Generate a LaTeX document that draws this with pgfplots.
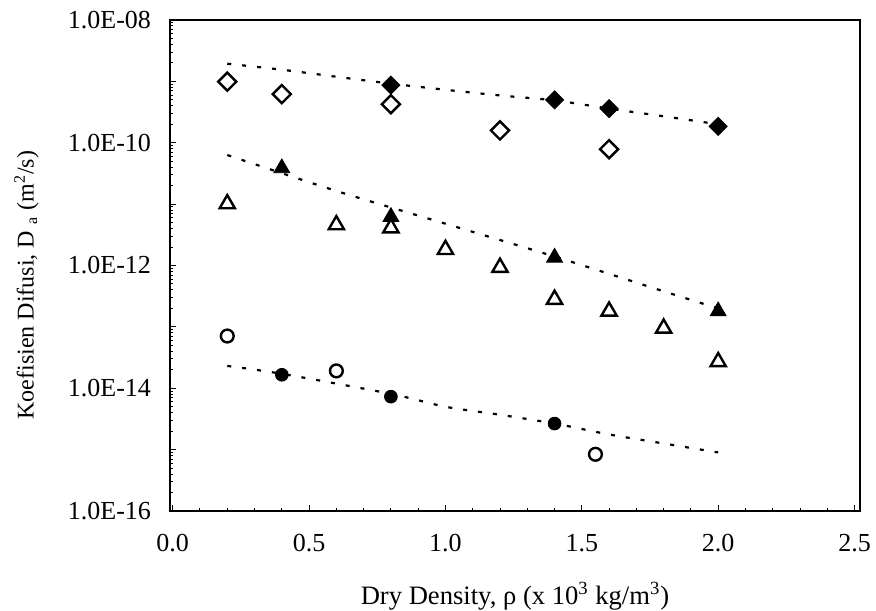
\documentclass[border=0pt]{standalone}
\usepackage{fontspec}
\setmainfont{Liberation Serif}
\usepackage{pgfplots}
\pgfplotsset{compat=1.18}
\begin{document}
\begin{tikzpicture}
\begin{axis}[
    scale only axis,
    width=345pt, height=245.5pt,
    xmin=-0.01, xmax=2.52,
    ymode=log, ymin=1e-16, ymax=1e-8,
    xtick={0,0.5,1,1.5,2,2.5},
    xticklabels={0.0,0.5,1.0,1.5,2.0,2.5},
    ytick={1e-16,1e-15,1e-14,1e-13,1e-12,1e-11,1e-10,1e-9,1e-8},
    yticklabels={1.0E-16,{},1.0E-14,{},1.0E-12,{},1.0E-10,{},1.0E-08},
    minor x tick num=4,
    tick pos=left, tick align=inside,
    major tick length=3pt, minor tick length=1.5pt,
    tick style={black, line width=0.5pt},
    axis line style={line width=1.3pt},
    ticklabel style={font=\fontsize{13}{15}\selectfont},
    xticklabel style={yshift=-8pt},
    yticklabel style={xshift=-6pt},
    xlabel={Dry Density, ρ (x 10\textsuperscript{3} kg/m\textsuperscript{3})},
    ylabel={Koefisien Difusi, D \textsubscript{a} (m\textsuperscript{2}/s)},
    xlabel style={font=\fontsize{13.3}{15}\selectfont, at={(axis description cs:0.5,-0.173)}, anchor=center},
    ylabel style={font=\fontsize{12}{14}\selectfont, at={(axis description cs:-0.208,0.46)}, anchor=center},
    clip=false,
]
% fitted trend lines
\addplot[black, line width=1.1pt, dash pattern=on 2pt off 5.5pt, smooth] coordinates {
(0.2,1.94e-9) (0.4,1.55e-9) (0.6,1.19e-9) (0.8,9.2e-10) (1.0,7.3e-10)
(1.2,5.9e-10) (1.4,4.9e-10) (1.6,3.6e-10) (1.8,2.7e-10) (2.0,2.0e-10)
};
\addplot[black, line width=1.1pt, dash pattern=on 2pt off 5.5pt, smooth] coordinates {
(0.2,6.3e-11) (0.6,1.64e-11) (1.0,4.8e-12) (1.4,1.4e-12) (1.8,3.8e-13) (2.0,2.0e-13)
};
\addplot[black, line width=1.1pt, dash pattern=on 2pt off 5.5pt, smooth] coordinates {
(0.2,2.31e-14) (0.4,1.72e-14) (0.8,8.1e-15) (1.0,5.0e-15) (1.2,3.7e-15)
(1.4,2.66e-15) (1.6,1.77e-15) (1.8,1.26e-15) (2.0,9.0e-16)
};
% diamonds
\addplot[only marks, mark=square, mark size=3.2pt, mark options={rotate=45, line width=1.2pt, fill=white}] coordinates {
(0.2,9.9e-10) (0.4,6.2e-10) (0.8,4.25e-10) (1.2,1.59e-10) (1.6,7.85e-11)
};
\addplot[only marks, mark=square*, mark size=3.2pt, mark options={rotate=45, fill=black}] coordinates {
(0.8,8.7e-10) (1.4,5.0e-10) (1.6,3.6e-10) (2.0,1.85e-10)
};
% triangles
\addplot[only marks, mark=triangle, mark size=4.4pt, mark options={line width=1.2pt, fill=white}] coordinates {
(0.2,1.01e-11) (0.6,4.6e-12) (0.8,4.1e-12) (1.0,1.82e-12) (1.2,9.3e-13)
(1.4,2.8e-13) (1.6,1.8e-13) (1.8,9.5e-14) (2.0,2.7e-14)
};
\addplot[only marks, mark=triangle*, mark size=4.6pt, mark options={fill=black}] coordinates {
(0.4,3.86e-11) (0.8,6.2e-12) (1.4,1.35e-12) (2.0,1.8e-13)
};
% circles
\addplot[only marks, mark=o, mark size=3.2pt, mark options={line width=1.2pt}] coordinates {
(0.2,7.1e-14) (0.6,1.92e-14) (1.55,8.4e-16)
};
\addplot[only marks, mark=*, mark size=3.2pt, mark options={fill=black}] coordinates {
(0.4,1.66e-14) (0.8,7.3e-15) (1.4,2.66e-15)
};
\coordinate (sw) at (rel axis cs:0,0);
\coordinate (ne) at (rel axis cs:1,1);
\end{axis}
\pgfresetboundingbox
\path ([shift={(-85pt,-49.5pt)}]sw) rectangle ([shift={(8pt,10pt)}]ne);
\end{tikzpicture}
\end{document}
